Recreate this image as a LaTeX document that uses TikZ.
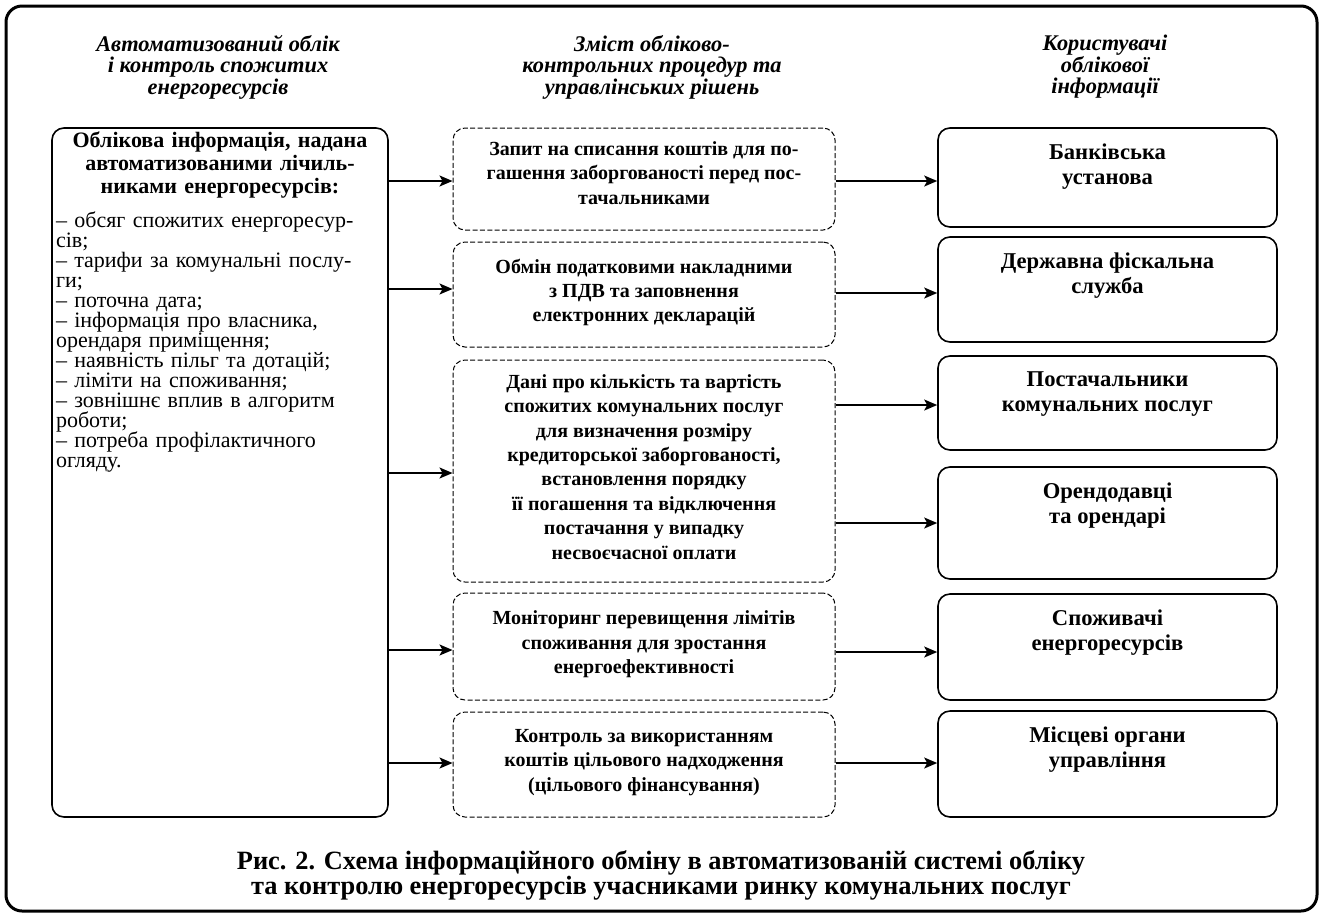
\documentclass[tikz,border=0pt]{standalone}
\usepackage{fontspec}
\setmainfont{Liberation Serif}
\usetikzlibrary{arrows.meta,positioning}
\tikzstyle{colhead}=[align=center,inner sep=0pt,font={\bfseries\itshape\fontsize{11.2}{10.75}\selectfont\lineskiplimit -6pt\relax}]
\tikzstyle{srcbox}=[draw,rounded corners=6pt,line width=0.8pt,minimum width=168pt,minimum height=344.5pt,inner sep=0pt]
\tikzstyle{srctext}=[text width=164pt,align=left,inner sep=0pt,font=\fontsize{11}{10}\selectfont]
\tikzstyle{procbox}=[draw,dash pattern=on 2.5pt off 1.2pt,rounded corners=6pt,line width=0.5pt,minimum width=191pt,align=center,inner sep=0pt,font=\bfseries\fontsize{10}{12.2}\selectfont]
\tikzstyle{userbox}=[draw,rounded corners=6pt,line width=0.8pt,minimum width=169.5pt,inner sep=0pt]
\tikzstyle{usertext}=[align=center,inner sep=0pt,font=\bfseries\fontsize{11.3}{12.5}\selectfont]
\tikzstyle{flow}=[line width=0.75pt,-{Stealth[length=6.5pt,width=5.5pt,inset=1.5pt]}]
\tikzstyle{caption}=[align=center,inner sep=0pt,font={\bfseries\fontsize{13.2}{12.5}\selectfont\lineskiplimit -6pt\relax}]

\begin{document}
\begin{tikzpicture}[x=0.5pt,y=-0.5pt]
\useasboundingbox (0,0) rectangle (1323,917);
\draw[line width=1.5pt,rounded corners=8pt] (6,6) rectangle (1317,911);
% column heads
\draw (218,67) node [colhead] (h1) {Автоматизований облік\\і контроль спожитих\\енергоресурсів};
\draw (652,67) node [colhead] (h2) {Зміст обліково-\\контрольних процедур та\\управлінських рішень};
\draw (1105,67) node [colhead] (h3) {Користувачі\\облікової\\інформації};
% source
\draw (220,472.5) node [srcbox] (src) {};
\node [srctext,below=2pt of src.north] (srct) {%
{\centering\bfseries\fontsize{11}{11.5}\selectfont Облікова інформація, надана\\
автоматизованими лічиль-\\никами енергоресурсів:\par}
\vspace{7pt}\raggedright\lineskiplimit -6pt\relax
– обсяг спожитих енергоресур-\\сів;\\
– тарифи за комунальні послу-\\ги;\\
– поточна дата;\\
– інформація про власника,\\орендаря приміщення;\\
– наявність пільг та дотацій;\\
– ліміти на споживання;\\
– зовнішнє вплив в алгоритм\\роботи;\\
– потреба профілактичного\\огляду.\par};
% procedures
\draw (644,179) node [procbox,minimum height=51pt] (m1) {Запит на списання коштів для по-\\гашення заборгованості перед пос-\\тачальниками\\[-6pt]};
\draw (644,294.5) node [procbox,minimum height=52.5pt] (m2) {Обмін податковими накладними\\з ПДВ та заповнення\\електронних декларацій\\[-8pt]};
\draw (644,471) node [procbox,minimum height=111pt] (m3) {Дані про кількість та вартість\\спожитих комунальних послуг\\для визначення розміру\\кредиторської заборгованості,\\встановлення порядку\\її погашення та відключення\\постачання у випадку\\несвоєчасної оплати\\[-8pt]};
\draw (644,646.5) node [procbox,minimum height=53.5pt] (m4) {Моніторинг перевищення лімітів\\споживання для зростання\\енергоефективності\\[-8pt]};
\draw (644,764.5) node [procbox,minimum height=52.5pt] (m5) {Контроль за використанням\\коштів цільового надходження\\(цільового фінансування)\\[-8pt]};
% users
\draw (1107.5,177.5) node [userbox,minimum height=49.5pt] (r1) {};
\draw (1107.5,289.5) node [userbox,minimum height=52.5pt] (r2) {};
\draw (1107.5,403) node [userbox,minimum height=47pt] (r3) {};
\draw (1107.5,523) node [userbox,minimum height=56pt] (r4) {};
\draw (1107.5,647) node [userbox,minimum height=53pt] (r5) {};
\draw (1107.5,764) node [userbox,minimum height=53pt] (r6) {};
\node [usertext,below=8pt of r1.north] (r1t) {Банківська\\установа};
\node [usertext,below=8pt of r2.north] (r2t) {Державна фіскальна\\служба};
\node [usertext,below=8pt of r3.north] (r3t) {Постачальники\\комунальних послуг};
\node [usertext,below=8pt of r4.north] (r4t) {Орендодавці\\та орендарі};
\node [usertext,below=8pt of r5.north] (r5t) {Споживачі\\енергоресурсів};
\node [usertext,below=8pt of r6.north] (r6t) {Місцеві органи\\управління};
% arrows
\draw[flow] (src.east |- 0,181) -- (m1.west |- 0,181);
\draw[flow] (src.east |- 0,289) -- (m2.west |- 0,289);
\draw[flow] (src.east |- 0,473) -- (m3.west |- 0,473);
\draw[flow] (src.east |- 0,650) -- (m4.west |- 0,650);
\draw[flow] (src.east |- 0,763) -- (m5.west |- 0,763);
\draw[flow] (m1.east |- 0,181) -- (r1.west |- 0,181);
\draw[flow] (m2.east |- 0,293) -- (r2.west |- 0,293);
\draw[flow] (m3.east |- 0,405) -- (r3.west |- 0,405);
\draw[flow] (m3.east |- 0,523) -- (r4.west |- 0,523);
\draw[flow] (m4.east |- 0,652) -- (r5.west |- 0,652);
\draw[flow] (m5.east |- 0,763) -- (r6.west |- 0,763);
% caption
\draw (661,875) node [caption] (cap) {Рис. 2. Схема інформаційного обміну в автоматизованій системі обліку\\та контролю енергоресурсів учасниками ринку комунальних послуг};
\end{tikzpicture}
\end{document}
